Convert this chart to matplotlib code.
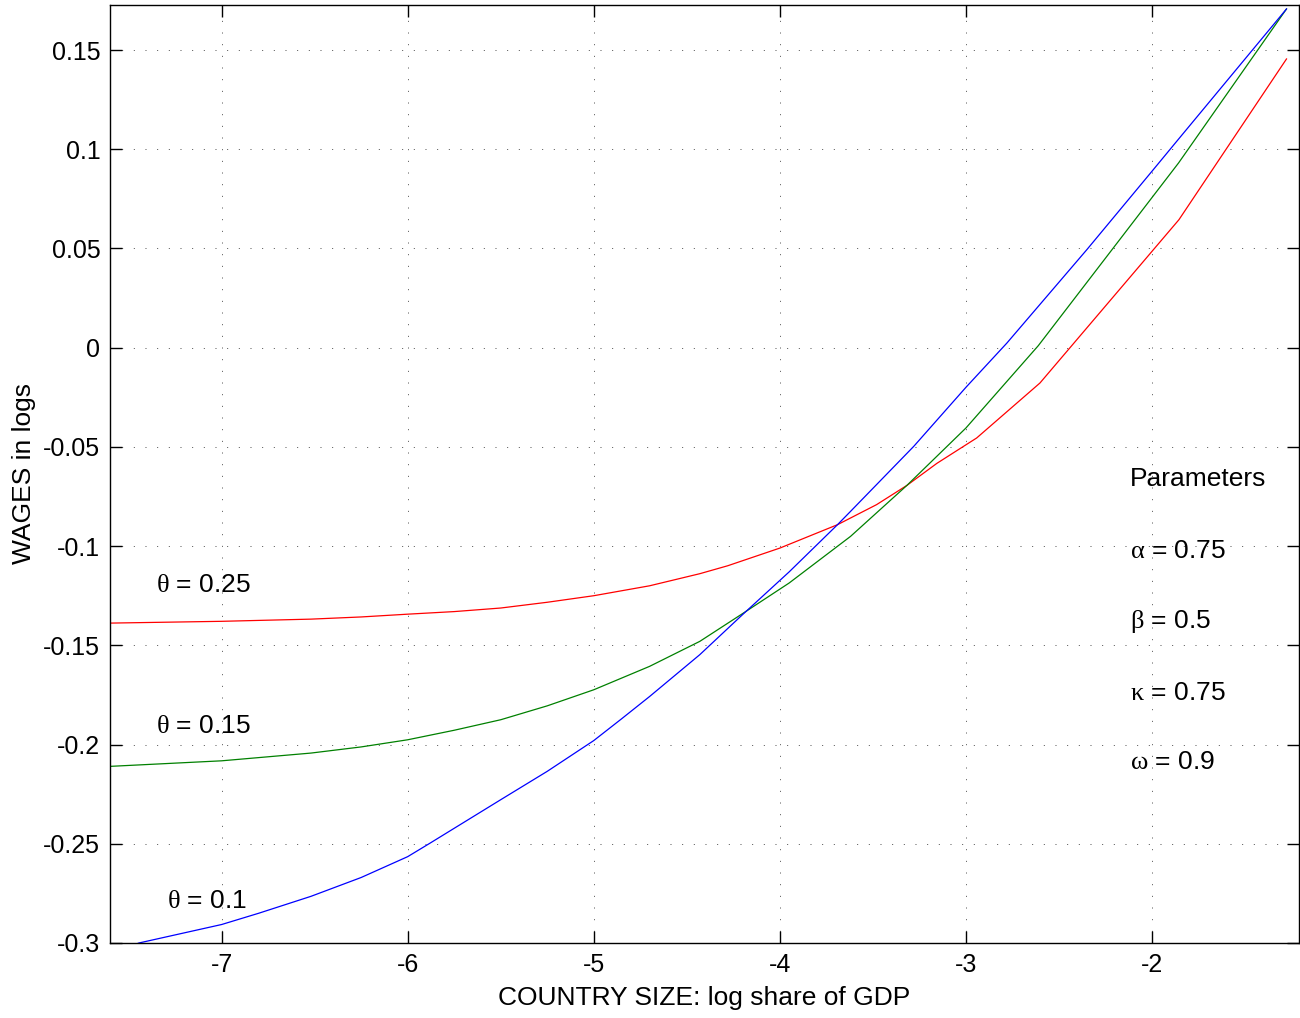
import matplotlib
matplotlib.use('Agg')
import matplotlib.pyplot as plt

plt.rcParams['font.family'] = ['Liberation Sans', 'DejaVu Sans']
plt.rcParams['mathtext.fontset'] = 'custom'
plt.rcParams['mathtext.rm'] = 'Liberation Serif'
plt.rcParams['axes.unicode_minus'] = False

# Curves (x = log share of GDP, y = wages in logs)
x_red = [-7.6, -7.0, -6.52, -6.25, -6.0, -5.75, -5.5, -5.25, -5.0, -4.7, -4.43, -4.28, -4.0, -3.69,
         -3.48, -3.317, -3.156, -2.942, -2.602, -1.855, -1.277]
y_red = [-0.1388, -0.1379, -0.1368, -0.1357, -0.1343, -0.1330, -0.1312, -0.1283, -0.1250, -0.1200,
         -0.1139, -0.1099, -0.1010, -0.0892, -0.0791, -0.0694, -0.0583, -0.0455, -0.0178, 0.0645, 0.1455]

x_green = [-7.6, -7.0, -6.52, -6.25, -6.0, -5.75, -5.5, -5.25, -5.0, -4.7, -4.43, -4.2, -3.95, -3.62,
           -3.317, -3.0, -2.611, -1.857, -1.277]
y_green = [-0.2110, -0.2082, -0.2043, -0.2012, -0.1976, -0.1928, -0.1875, -0.1805, -0.1724, -0.1606,
           -0.1480, -0.1340, -0.1186, -0.0951, -0.0694, -0.0405, 0.0010, 0.0931, 0.1707]

x_blue = [-7.6, -7.444, -7.0, -6.8, -6.52, -6.25, -6.0, -5.88, -5.5, -5.25, -5.0, -4.85, -4.7, -4.43,
          -4.2, -3.95, -3.69, -3.62, -3.28, -3.0, -2.78, -2.35, -2.0, -1.867, -1.277]
y_blue = [-0.3055, -0.3000, -0.2907, -0.2850, -0.2765, -0.2670, -0.2565, -0.2497, -0.2278, -0.2135,
          -0.1980, -0.1870, -0.1758, -0.1547, -0.1345, -0.1130, -0.0892, -0.0825, -0.0497, -0.0200,
          0.0023, 0.0494, 0.0889, 0.1040, 0.1707]

curve_labels = [r'$\mathrm{\theta}$ = 0.25', r'$\mathrm{\theta}$ = 0.15', r'$\mathrm{\theta}$ = 0.1']
label_pos = [(-7.354, -0.1195), (-7.35, -0.1905), (-7.295, -0.2787)]

param_lines = ['Parameters', r'$\mathrm{\alpha}$ = 0.75', r'$\mathrm{\beta}$ = 0.5',
               r'$\mathrm{\kappa}$ = 0.75', r'$\mathrm{\omega}$ = 0.9']
param_y = [-0.066, -0.1023, -0.138, -0.174, -0.209]

xticks = [-7, -6, -5, -4, -3, -2]
yticks = [0.15, 0.1, 0.05, 0, -0.05, -0.1, -0.15, -0.2, -0.25, -0.3]
ytick_labels = ['0.15', '0.1', '0.05', '0', '-0.05', '-0.1', '-0.15', '-0.2', '-0.25', '-0.3']

fig = plt.figure(figsize=(13, 10.18), dpi=100)
ax = fig.add_axes([0.0846, 0.0737, 0.9146, 0.9214])

ax.plot(x_red, y_red, color='#ff0000', lw=0.9)
ax.plot(x_green, y_green, color='#008000', lw=0.9)
ax.plot(x_blue, y_blue, color='#0000ff', lw=0.9)

for txt, (tx, ty) in zip(curve_labels, label_pos):
    ax.text(tx, ty, txt, fontsize=19, ha='left', va='center')

for txt, py in zip(param_lines, param_y):
    ax.text(-2.118, py, txt, fontsize=19, ha='left', va='center')

ax.set_xlim(-7.6, -1.21)
ax.set_ylim(-0.3, 0.1727)
ax.set_xticks(xticks)
ax.set_xticklabels([str(t) for t in xticks])
ax.set_yticks(yticks)
ax.set_yticklabels(ytick_labels)

ax.tick_params(direction='in', length=8.5, width=1, labelsize=18,
               top=True, right=True, pad=7)
ax.grid(True, color='0.3', linestyle=(0, (1, 11)), lw=0.7)
for s in ax.spines.values():
    s.set_linewidth(1.0)

ax.set_xlabel('COUNTRY SIZE: log share of GDP', fontsize=19, labelpad=7)
ax.set_ylabel('WAGES in logs', fontsize=19, labelpad=5)

plt.savefig('out.png', dpi=100)
